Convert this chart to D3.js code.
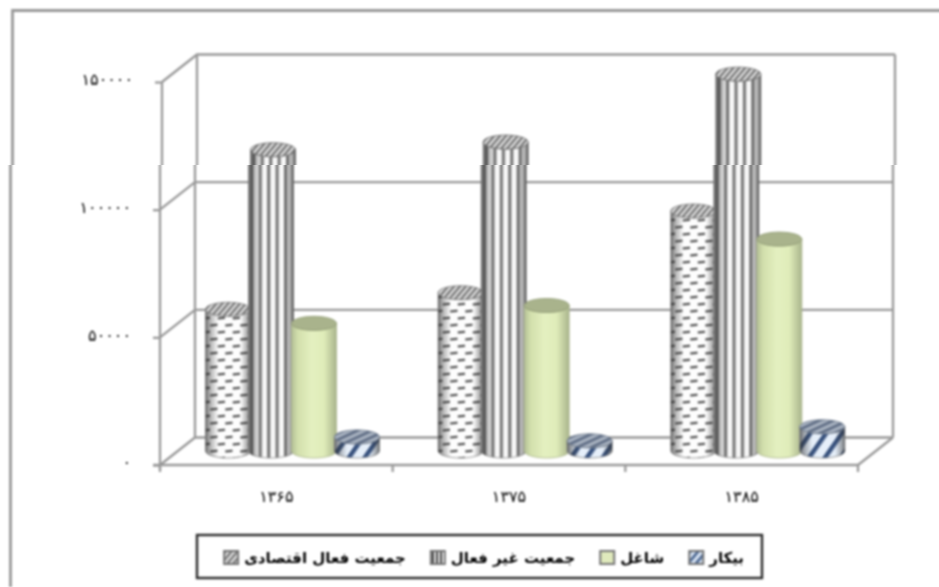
<!DOCTYPE html>
<html><head><meta charset="utf-8">
<script src="https://cdn.jsdelivr.net/npm/d3@7"></script>
<style>html,body{margin:0;padding:0;background:#fff}svg{display:block}text{font-family:"DejaVu Sans",sans-serif;fill:#000}</style>
</head><body><svg id="c" width="939" height="587"></svg>
<script>
const categories = ['۱۳۶۵','۱۳۷۵','۱۳۸۵'];
const seriesNames = ['جمعیت فعال اقتصادی','جمعیت غیر فعال','شاغل','بیکار'];
const active     = [55500, 62000, 94000];
const inactive   = [118000, 121000, 147600];
const employed   = [50000, 57000, 83000];
const unemployed = [5500, 4000, 9500];
const seriesValues = [active, inactive, employed, unemployed];
const yTicks = [0, 50000, 100000, 150000];

const W = 939, H = 587;
const svg = d3.select('#c');
const defs = svg.append('defs');

// scan look: slight blur, upper part of the picture shifted sideways
const f = defs.append('filter').attr('id','scan').attr('filterUnits','userSpaceOnUse')
  .attr('x',0).attr('y',0).attr('width',W).attr('height',H).attr('color-interpolation-filters','sRGB');
f.append('feGaussianBlur').attr('in','SourceGraphic').attr('stdDeviation',0.8).attr('result','b');
f.append('feOffset').attr('in','b').attr('dx',1.5).attr('dy',0).attr('x',0).attr('y',0).attr('width',W).attr('height',165).attr('result','up');
f.append('feOffset').attr('in','b').attr('dx',0).attr('dy',0).attr('x',0).attr('y',165).attr('width',W).attr('height',H-165).attr('result','low');
const m = f.append('feMerge'); m.append('feMergeNode').attr('in','up'); m.append('feMergeNode').attr('in','low');

function pat(id,w,h,bg,t){
  const p = defs.append('pattern').attr('id',id).attr('patternUnits','userSpaceOnUse').attr('width',w).attr('height',h);
  if(t) p.attr('patternTransform',t);
  p.append('rect').attr('width',w).attr('height',h).attr('fill',bg);
  return p;
}
const pd = pat('dots',15,14,'#fdfdfd');
[[0,2],[7.5,9]].forEach(([x,y])=>{
  pd.append('rect').attr('x',x).attr('y',y).attr('width',7.5).attr('height',2.4).attr('rx',1).attr('fill','#555').attr('transform',`rotate(-6 ${x+3} ${y})`);
});
const ps = defs.append('pattern').attr('id','vstripes').attr('patternUnits','objectBoundingBox')
  .attr('patternContentUnits','objectBoundingBox').attr('x',0.04).attr('y',0).attr('width',0.187).attr('height',1);
ps.append('rect').attr('width',0.187).attr('height',1).attr('fill','#f8f8f8');
ps.append('rect').attr('width',0.07).attr('height',1).attr('fill','#777');
const vs = pat('vsmall',4,4,'#eee');
vs.append('rect').attr('width',2).attr('height',4).attr('fill','#444');
const pu = pat('diag',13,13,'#e6effa','rotate(35)');
pu.append('rect').attr('width',4.5).attr('height',13).attr('fill','#36507c');
const pus = pat('diagSmall',6,6,'#d8e4f4','rotate(40)');
pus.append('rect').attr('width',2.6).attr('height',6).attr('fill','#45618c');
const ph = pat('hatch',4.5,4.5,'#d4d4d4','rotate(40)');
ph.append('rect').attr('width',1.8).attr('height',4.5).attr('fill','#6e6e6e');
const phu = pat('hatchU',6,6,'#a8b2c0','rotate(65)');
phu.append('rect').attr('width',2.6).attr('height',6).attr('fill','#5c6a82');

function grad(id,stops){
  const g = defs.append('linearGradient').attr('id',id).attr('x1',0).attr('x2',1).attr('y1',0).attr('y2',0);
  stops.forEach(([o,c,a])=>g.append('stop').attr('offset',o).attr('stop-color',c).attr('stop-opacity',a));
}
grad('edge',[[0,'#333',0.7],[0.1,'#333',0.38],[0.28,'#333',0],[0.78,'#333',0],[0.92,'#333',0.38],[1,'#333',0.66]]);
grad('green',[[0,'#b3bf95',1],[0.14,'#d2dfac',1],[0.45,'#e4f0c0',1],[0.72,'#dfecb9',1],[1,'#a9b48c',1]]);

const root = svg.append('g').attr('filter','url(#scan)');
root.append('rect').attr('width',W).attr('height',H).attr('fill','#fff');

// outer frame (open at right and bottom)
root.append('path').attr('d',`M10.5 ${H}V10.5H${W}`).attr('fill','none').attr('stroke','#989898').attr('stroke-width',2.8);

const x0 = d3.scaleBand().domain(categories).range([160,858]);
const y = d3.scaleLinear().domain([0,150000]).range([465,82]);
const x1 = d3.scaleBand().domain(seriesNames).range([0,172]);
const depthX = 35, depthY = -27.5, barShiftX = 47, barShiftY = -14;
const grid = '#999';

const walls = root.append('g').attr('fill','none').attr('stroke',grid).attr('stroke-width',2.3);
yTicks.forEach(v=>{
  walls.append('path').attr('d',`M160 ${y(v)}L${160+depthX} ${y(v)+depthY}H${858+depthX}`);
});
walls.append('path').attr('d',`M${160+depthX} ${y(0)+depthY}V${y(150000)+depthY}`);
walls.append('path').attr('d',`M${858+depthX} ${y(0)+depthY}V${y(150000)+depthY}`);
walls.append('path').attr('d',`M858 ${y(0)}L${858+depthX} ${y(0)+depthY}`);

// y axis
const ax = root.append('g').attr('transform','translate(160,0)')
  .call(d3.axisLeft(y).tickValues(yTicks).tickSize(7).tickPadding(22)
    .tickFormat(v=>String(v).replace(/\d/g,d=>'۰۱۲۳۴۵۶۷۸۹'[d])));
ax.select('.domain').attr('stroke',grid).attr('stroke-width',2.3).attr('d',`M0 ${y(150000)}V${y(0)+5}`);
ax.selectAll('line').attr('stroke',grid).attr('stroke-width',2.3);
ax.selectAll('text').attr('font-size',16).attr('letter-spacing',3).attr('fill','#000').attr('dy','0.17em').style('font-family','"DejaVu Sans"');

// x axis
const bx = root.append('g').attr('transform',`translate(0,${y(0)})`)
  .call(d3.axisBottom(x0).tickSize(0).tickPadding(26));
bx.select('.domain').attr('stroke',grid).attr('stroke-width',2.3).attr('d','M153 0H858');
bx.selectAll('text').attr('font-size',16).attr('letter-spacing',1.5).attr('fill','#000').style('font-family','"DejaVu Sans"');
[...categories.map(c=>x0(c)), 858].forEach(px=>{
  bx.append('line').attr('x1',px).attr('x2',px).attr('y1',0).attr('y2',7).attr('stroke',grid).attr('stroke-width',2.3);
});

// cylinders
const styles = [
  {body:'url(#dots)', cap:'url(#hatch)', shade:'url(#edge)', capStroke:'#777'},
  {body:'url(#vstripes)', cap:'url(#hatch)', shade:'url(#edge)', capStroke:'#666'},
  {body:'url(#green)', cap:'#a9b38c', shade:null, capStroke:'#8f9a74'},
  {body:'url(#diag)', cap:'url(#hatchU)', shade:'url(#edge)', capStroke:'#6a7688'}
];
const rx = 22.5, ry = 7;
const bars = root.append('g');
categories.forEach((c,i)=>{
  seriesNames.forEach((s,k)=>{
    const cx = x0(c)+barShiftX+x1(s)+x1.bandwidth()/2-0.5;
    const top = y(seriesValues[k][i])+barShiftY, base = y(0)+barShiftY;
    const d = `M${cx-rx} ${top}V${base}A${rx} ${ry} 0 0 0 ${cx+rx} ${base}V${top}A${rx} ${ry} 0 0 1 ${cx-rx} ${top}Z`;
    const st = styles[k];
    const g = bars.append('g');
    g.append('path').attr('d',d).attr('fill',st.body).attr('stroke',k===2?'#a9b48c':'#8a8a8a').attr('stroke-width',0.8);
    if(st.shade) g.append('path').attr('d',d).attr('fill',st.shade);
    g.append('ellipse').attr('cx',cx).attr('cy',top).attr('rx',rx).attr('ry',ry)
      .attr('fill',st.cap).attr('stroke',st.capStroke).attr('stroke-width',0.8);
  });
});

// legend
const lg = root.append('g');
lg.append('rect').attr('x',197).attr('y',535).attr('width',565).attr('height',43)
  .attr('fill','#fff').attr('stroke','#2a2a2a').attr('stroke-width',2.4);
const swatchFill = ['url(#hatch)','url(#vsmall)','#dfe9bc','url(#diagSmall)'];
let lx = 744;
[3,2,1,0].forEach(k=>{
  const t = lg.append('text').attr('x',lx).attr('y',563).attr('text-anchor','start')
    .attr('direction','rtl').attr('font-size',15).attr('font-weight','600').text(seriesNames[k]);
  const w = t.node().getComputedTextLength();
  const sx = lx-w-6-14;
  lg.append('rect').attr('x',sx).attr('y',551).attr('width',14).attr('height',13)
    .attr('fill',swatchFill[k]).attr('stroke','#777').attr('stroke-width',2);
  lx = sx-25;
});
</script></body></html>
